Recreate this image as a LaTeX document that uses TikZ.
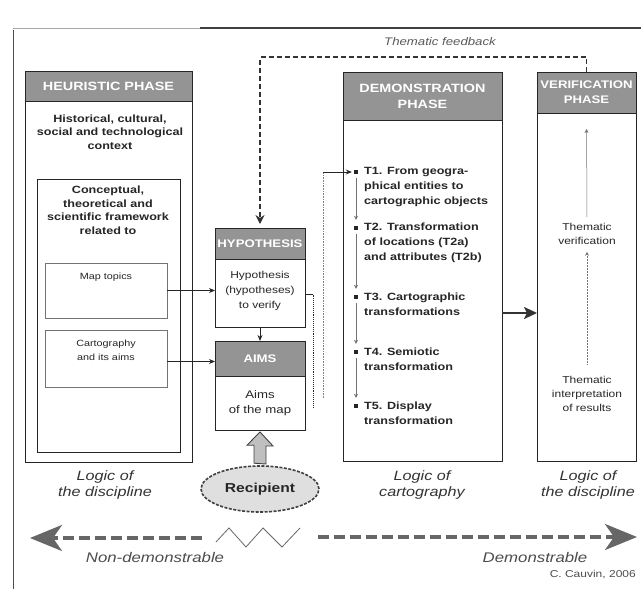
\documentclass[tikz,border=0pt]{standalone}
\usepackage{fontspec}
\setmainfont{Liberation Sans}[FakeStretch=1.2]
\usetikzlibrary{arrows.meta,shapes.geometric,calc}
\newcommand{\myfs}[2]{\fontsize{#1}{#2}\selectfont}
\begin{document}
\begin{tikzpicture}[x=1pt,y=-1pt,
  every node/.style={text=black!85},
  box/.style={draw=black!85, line width=1pt, fill=white, anchor=north west, inner sep=0pt, outer sep=0pt},
  hdr/.style={draw=black!85, line width=1pt, fill=black!42, anchor=north west, inner sep=0pt, outer sep=0pt, text=white, align=center, font=\bfseries\myfs{12}{15}},
  sub/.style={draw=black!55, line width=0.7pt, anchor=north west, inner sep=0pt, outer sep=0pt},
  txt/.style={align=center, inner sep=0pt},
  btxt/.style={align=center, inner sep=0pt, font=\bfseries\myfs{10.5}{13.5}},
  titem/.style={align=left, inner sep=0pt, anchor=west, font=\bfseries\myfs{10.5}{15}},
  bul/.style={fill=black!85, inner sep=0pt, minimum size=4pt},
  lbl/.style={align=center, inner sep=0pt, font=\itshape\myfs{13.5}{16.5}, text=black!80},
  conn/.style={-{Stealth[length=6pt,width=5pt]}, line width=0.9pt, draw=black!85},
  tconn/.style={-{Stealth[length=4pt,width=4pt]}, line width=0.5pt, draw=black!55},
  fb/.style={dash pattern=on 5pt off 3pt, line width=1.4pt, draw=black!80},
  bigdash/.style={dash pattern=on 11pt off 5pt, line width=3.5pt, draw=black!60},
  bighead/.style={-{Stealth[length=32pt,width=26pt,inset=9pt]}, bigdash}
]
\useasboundingbox (0,0) rectangle (641,589);

% frame lines
\draw[black!70, line width=1pt] (13,30) -- (13,589);
\draw[black!35, line width=0.8pt] (13,28) -- (200,28);
\draw[black!75, line width=1.2pt] (200,28) -- (641,28);

% ---------- Heuristic phase ----------
\node[box, minimum width=167pt, minimum height=391pt] (heur) at (25,71) {};
\node[hdr, minimum width=167pt, minimum height=30pt] (heurh) at (25,71) {HEURISTIC PHASE};
\node[btxt] (hist) at (110,132) {Historical, cultural,\\social and technological\\context};
\node[box, line width=0.9pt, minimum width=143pt, minimum height=273pt] (concbox) at (37,179) {};
\node[btxt] (conc) at (108,210) {Conceptual,\\theoretical and\\scientific framework\\related to};
\node[sub, minimum width=122pt, minimum height=55pt] (mapt) at (45,263) {};
\node[txt, font=\myfs{9}{11}] (maptt) at (106,277) {Map topics};
\node[sub, minimum width=122pt, minimum height=57pt] (cart) at (45,330) {};
\node[txt, font=\myfs{9}{14}] (cartt) at (106,350) {Cartography\\and its aims};
\node[lbl] (logic1) at (105,485) {Logic of\\the discipline};

% ---------- Hypothesis / Aims ----------
\node[box, minimum width=90pt, minimum height=99pt] (hyp) at (215,228) {};
\node[hdr, font=\bfseries\myfs{11}{13}, minimum width=90pt, minimum height=31pt] (hyph) at (215,228) {HYPOTHESIS};
\node[txt, font=\myfs{10}{15}] (hypt) at (260,291) {Hypothesis\\(hypotheses)\\to verify};
\node[box, minimum width=90pt, minimum height=89pt] (aims) at (215,341) {};
\node[hdr, font=\bfseries\myfs{11}{13}, minimum width=90pt, minimum height=35pt] (aimsh) at (215,341) {AIMS};
\node[txt, font=\myfs{11}{15}] (aimst) at (260,403) {Aims\\of the map};

\node[ellipse, draw=black!75, dash pattern=on 3pt off 1.5pt, line width=1.6pt, fill=gray!25,
      minimum width=118pt, minimum height=46pt, inner sep=0pt, font=\bfseries\myfs{13}{15}] (recip) at (260,489) {Recipient};

% ---------- Demonstration ----------
\node[box, minimum width=159pt, minimum height=389pt] (dem) at (343,72) {};
\node[hdr, minimum width=159pt, minimum height=48pt, font=\bfseries\myfs{12}{16}] (demh) at (343,72) {DEMONSTRATION\\PHASE};
\node[bul] (b1) at (356,172) {};
\node[bul] (b2) at (356,228) {};
\node[bul] (b3) at (356,297) {};
\node[bul] (b4) at (356,352) {};
\node[bul] (b5) at (356,406) {};
\node[titem] (t1) at (364,187) {T1. From geogra-\\phical entities to\\cartographic objects};
\node[titem] (t2) at (364,243) {T2. Transformation\\of locations (T2a)\\and attributes (T2b)};
\node[titem] (t3) at (364,304.5) {T3. Cartographic\\transformations};
\node[titem] (t4) at (364,359.5) {T4. Semiotic\\transformation};
\node[titem] (t5) at (364,413.5) {T5. Display\\transformation};
\draw[tconn, shorten <=4pt, shorten >=6pt] (b1.south) -- (b2.north);
\draw[tconn, shorten <=4pt, shorten >=6pt] (b2.south) -- (b3.north);
\draw[tconn, shorten <=4pt, shorten >=6pt] (b3.south) -- (b4.north);
\draw[tconn, shorten <=4pt, shorten >=6pt] (b4.south) -- (b5.north);
\node[lbl] (logic2) at (422,485) {Logic of\\cartography};

% ---------- Verification ----------
\node[box, minimum width=99pt, minimum height=389pt] (ver) at (537,72) {};
\node[hdr, minimum width=99pt, minimum height=41pt, font=\bfseries\myfs{11}{15}] (verh) at (537,72) {VERIFICATION\\PHASE};
\node[txt, font=\myfs{10}{14}] (thver) at (587,234) {Thematic\\verification};
\node[txt, font=\myfs{10}{14}] (thint) at (587,394) {Thematic\\interpretation\\of results};
\draw[tconn, densely dotted, shorten <=12pt, shorten >=7pt] (thint.north) -- (thver.south);
\draw[tconn, shorten <=6pt, shorten >=16pt] (thver.north) -- (verh.south);
\node[lbl] (logic3) at (588,485) {Logic of\\the discipline};

% ---------- connectors ----------
\draw[conn] (mapt.east) -- (mapt.east -| hyp.west);
\draw[conn] ($(cart.east)+(0,3)$) coordinate (ca) -- (ca -| aims.west);
\draw[conn] (hyp.south) -- (aims.north);
% bracket from hypothesis
\draw[line width=0.9pt, black!85] ($(hyp.east)+(0,17)$) -- ++(8,0) coordinate (brB);
\draw[line width=0.9pt, black!85, densely dotted] (brB) -- ++(0,113);
% feed line into T1
\coordinate (fd1) at (323,398);
\draw[line width=0.6pt, black!50, densely dotted] (fd1) -- (fd1 |- b1);
\draw[conn, shorten >=2pt] (fd1 |- b1) -- (b1.west);
% demonstration -> verification
\draw[-{Stealth[length=13pt,width=12pt,inset=3pt]}, line width=2.4pt, black!80] ($(dem.north east)+(0,241)$) coordinate (dv) -- (dv -| ver.west);
% recipient hollow arrow
\draw[fill=gray!50, draw=black!75, line width=0.9pt]
  ($(recip.north)+(-6,-2)$) -- ++(0,-18) -- ++(-7,0) -- ($(aims.south)+(0,2)$) -- ++(13,14) -- ++(-7,0) -- ++(0,18) -- cycle;
% thematic feedback
\coordinate (fbtop) at (0,57);
\draw[fb, -{Stealth[length=9pt,width=9pt]}, shorten >=4pt] (ver.north) -- (ver.north |- fbtop) -| (hyp.north);
\node[txt, font=\itshape\myfs{11}{13}, text=black!65] (fbl) at (440,42) {Thematic feedback};

% ---------- bottom axis ----------
\coordinate (nd1) at (202,538);
\coordinate (nd2) at (30,538);
\coordinate (dm1) at (318,537);
\coordinate (dm2) at (637,537);
\draw[bighead] (nd1) -- (nd2);
\draw[bighead] (dm1) -- (dm2);
\draw[black!60, line width=0.8pt] (216,542) -- (229,528) -- (246,547) -- (263,528) -- (282,547) -- (300,528);
\node[txt, font=\itshape\myfs{14}{16}, text=black!70] (nond) at (155,557) {Non-demonstrable};
\node[txt, font=\itshape\myfs{14}{16}, text=black!70] (demo) at (535,557) {Demonstrable};
\node[txt, font=\myfs{10}{12}, text=black!70, anchor=east] (cred) at (636,575) {C. Cauvin, 2006};
\end{tikzpicture}
\end{document}
